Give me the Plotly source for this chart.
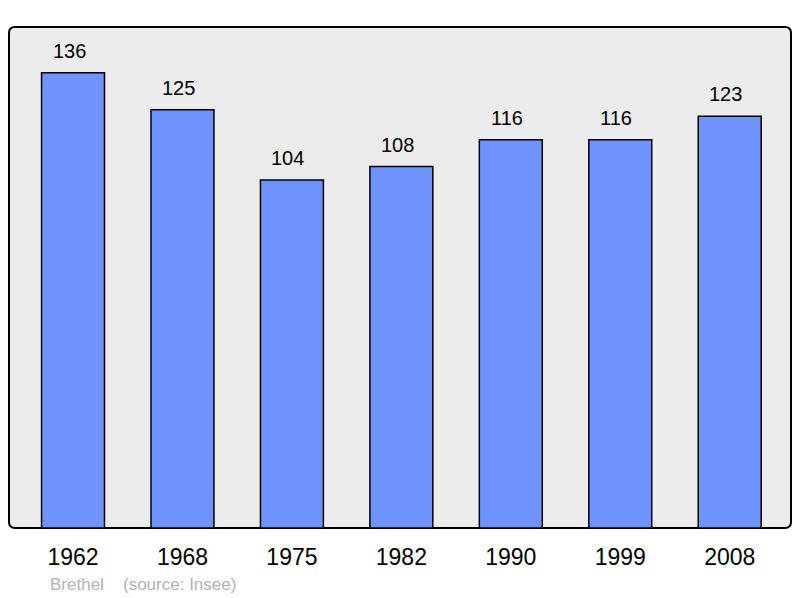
import plotly.graph_objects as go

years = ["1962", "1968", "1975", "1982", "1990", "1999", "2008"]
population = [136, 125, 104, 108, 116, 116, 123]
commune = "Brethel"
source = "(source: Insee)"

# page body has an 8px margin, so the figure is drawn from (8, 8)
OFF = 8
W, H = 800 - OFF, 598 - OFF
L, R, T, B = 9 - OFF, 9, 27 - OFF, 70
pw, ph = W - L - R, H - T - B

xpos = list(range(len(years)))

fig = go.Figure()
fig.add_trace(go.Bar(
    x=xpos, y=population, width=0.575,
    marker=dict(color="#7094ff", line=dict(color="black", width=1.5)),
    hoverinfo="skip",
))

for xi, v in zip(xpos, population):
    fig.add_annotation(x=xi, y=v, text=str(v), showarrow=False,
                       yanchor="bottom", yshift=9, xshift=-4,
                       font=dict(family="Liberation Sans, Arial", size=20, color="black"))

# rounded plot frame
r = 6
rx, ry = r / pw, r / ph
path = (f"M {rx},0 L {1-rx},0 Q 1,0 1,{ry} L 1,{1-ry} Q 1,1 {1-rx},1 "
        f"L {rx},1 Q 0,1 0,{1-ry} L 0,{ry} Q 0,0 {rx},0 Z")
fig.add_shape(type="path", xref="paper", yref="paper", path=path,
              fillcolor="#ececec", line=dict(color="black", width=2), layer="below")

ysrc = -(584 - 27 - ph) / ph
fig.add_annotation(xref="paper", yref="paper", x=(48 - 9) / pw, y=ysrc,
                   text=commune, showarrow=False, xanchor="left", yanchor="middle",
                   font=dict(family="Liberation Sans, Arial", size=17, color="#b3b3b3"))
fig.add_annotation(xref="paper", yref="paper", x=(121 - 9) / pw, y=ysrc,
                   text=source, showarrow=False, xanchor="left", yanchor="middle",
                   font=dict(family="Liberation Sans, Arial", size=17, color="#b3b3b3"))

fig.update_layout(
    width=W, height=H,
    margin=dict(l=L, r=R, t=T, b=B),
    paper_bgcolor="white", plot_bgcolor="rgba(0,0,0,0)",
    showlegend=False,
    xaxis=dict(range=[-0.585, 6.56], tickvals=xpos, ticktext=years,
               showgrid=False, zeroline=False, showline=False,
               ticks="outside", ticklen=8, tickcolor="rgba(0,0,0,0)",
               tickfont=dict(family="Liberation Sans, Arial", size=23, color="black"),
               fixedrange=True),
    yaxis=dict(range=[0, 149.7], showgrid=False, zeroline=False, showline=False,
               showticklabels=False, fixedrange=True),
)

fig.write_html("out.html")
